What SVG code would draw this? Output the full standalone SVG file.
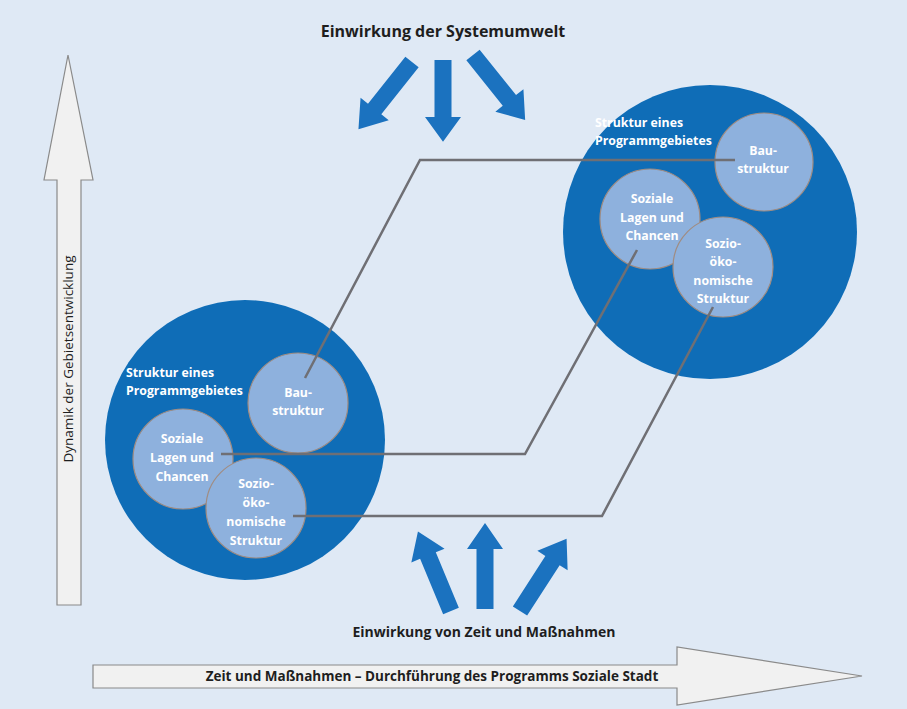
<svg xmlns="http://www.w3.org/2000/svg" width="907" height="709" viewBox="0 0 907 709">
<defs>
<style>
.big{fill:#0f6db7}
.small{fill:#8eb1dd;stroke:#a08c82;stroke-width:1.2}
.ctext{font-family:"Open Sans","Noto Sans",sans-serif;font-weight:bold;font-size:12.3px;fill:#ffffff;text-anchor:middle}
.htext{font-family:"Open Sans","Noto Sans",sans-serif;font-weight:bold;font-size:12.3px;fill:#ffffff}
.title{font-family:"Open Sans","Noto Sans",sans-serif;font-weight:bold;fill:#1e1e1e;text-anchor:middle}
.vtext{font-family:"Open Sans","Noto Sans",sans-serif;font-weight:normal;fill:#1e1e1e;text-anchor:middle;font-size:13.5px}
.conn{fill:none;stroke:#6f6f74;stroke-width:2.5;stroke-linejoin:miter}
.barrow{fill:#1b72bf}
.warrow{fill:#f1f1f1;stroke:#8a8a8a;stroke-width:1.2}
</style>
<path id="ba" d="M0,-8.5 L60,-8.5 L60,-18 L86,0 L60,18 L60,8.5 L0,8.5 Z"/>
</defs>
<rect x="0" y="0" width="907" height="709" fill="#dfe9f5"/>

<g id="axis-vertical">
<polygon class="warrow" points="57,605 81,605 81,180 93,180 68,55 44,180 57,180"/>
<text class="vtext" transform="translate(73,359) rotate(-90)">Dynamik der Gebietsentwicklung</text>
</g>

<g id="axis-horizontal">
<polygon class="warrow" points="93,665 677,665 677,647 862,676 677,705 677,688 93,688"/>
<text class="title" x="432" y="681" font-size="13.5">Zeit und Maßnahmen – Durchführung des Programms Soziale Stadt</text>
</g>

<g id="top-influence">
<text class="title" x="443" y="37" font-size="16">Einwirkung der Systemumwelt</text>
<use href="#ba" class="barrow" transform="translate(412,62) rotate(128.5)"/>
<use href="#ba" class="barrow" transform="translate(443,60) rotate(90) scale(0.95,1)"/>
<use href="#ba" class="barrow" transform="translate(473,55) rotate(51.3) scale(0.97,1)"/>
</g>

<g id="bottom-influence">
<text class="title" x="484" y="637" font-size="14">Einwirkung von Zeit und Maßnahmen</text>
<use href="#ba" class="barrow" transform="translate(451,611) rotate(-112.6)"/>
<use href="#ba" class="barrow" transform="translate(485,609) rotate(-90)"/>
<use href="#ba" class="barrow" transform="translate(520,611) rotate(-57.2)"/>
</g>

<g id="area-left">
<circle class="big" cx="245" cy="440" r="140"/>
<text class="htext" x="126" y="377">Struktur eines</text>
<text class="htext" x="126" y="395">Programmgebietes</text>
</g>
<g id="left-bau">
<circle class="small" cx="298" cy="403" r="50"/>
<text class="ctext" x="298" y="397">Bau-</text>
<text class="ctext" x="298" y="415">struktur</text>
</g>
<g id="left-soziale">
<circle class="small" cx="183" cy="459" r="50"/>
<text class="ctext" x="182" y="443">Soziale</text>
<text class="ctext" x="182" y="462">Lagen und</text>
<text class="ctext" x="182" y="481">Chancen</text>
</g>
<g id="left-sozio">
<circle class="small" cx="256" cy="508" r="50"/>
<text class="ctext" x="256" y="488">Sozio-</text>
<text class="ctext" x="256" y="507">öko-</text>
<text class="ctext" x="256" y="526">nomische</text>
<text class="ctext" x="256" y="545">Struktur</text>
</g>

<g id="area-right">
<circle class="big" cx="710" cy="232" r="147"/>
<text class="htext" x="595" y="127">Struktur eines</text>
<text class="htext" x="595" y="145">Programmgebietes</text>
</g>
<g id="right-bau">
<circle class="small" cx="764" cy="162" r="49"/>
<text class="ctext" x="763" y="155">Bau-</text>
<text class="ctext" x="763" y="173">struktur</text>
</g>
<g id="right-soziale">
<circle class="small" cx="650" cy="219" r="50"/>
<text class="ctext" x="652" y="203">Soziale</text>
<text class="ctext" x="652" y="222">Lagen und</text>
<text class="ctext" x="652" y="240">Chancen</text>
</g>
<g id="right-sozio">
<circle class="small" cx="723" cy="267" r="50"/>
<text class="ctext" x="723" y="248">Sozio-</text>
<text class="ctext" x="723" y="266">öko-</text>
<text class="ctext" x="723" y="285">nomische</text>
<text class="ctext" x="723" y="303">Struktur</text>
</g>

<g id="connectors">
<polyline class="conn" points="305,378 420,160 735,160"/>
<polyline class="conn" points="221,454 525,454 637,250"/>
<polyline class="conn" points="293,516 602,516 713,307"/>
</g>
</svg>
